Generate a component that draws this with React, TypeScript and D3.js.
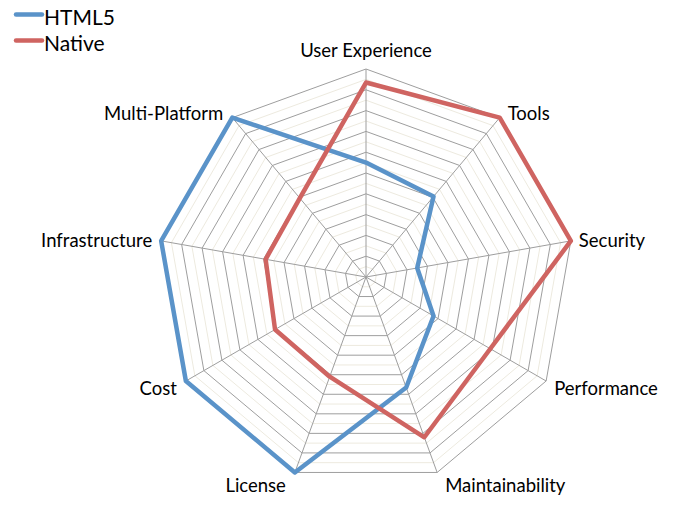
import * as d3 from "d3";
import React, { useEffect, useRef } from "react";

const axes = [
  "User Experience",
  "Tools",
  "Security",
  "Performance",
  "Maintainability",
  "License",
  "Cost",
  "Infrastructure",
  "Multi-Platform",
];
const html5 = [5.5, 5.05, 2.5, 3.75, 5.65, 10, 10, 10, 10];
const native = [9.35, 10, 10, 6.9, 8.2, 5.1, 5.05, 4.9, 4.95];
const seriesNames = ["HTML5", "Native"];
const seriesColors = ["#5A93C9", "#CF6461"];
const maxValue = 10;
const majorStep = 1;
const minorStep = 0.5;

export default function App() {
  const svgRef = useRef<SVGSVGElement>(null);

  useEffect(() => {
    if (!svgRef.current) return;
    const width = 675;
    const height = 514;
    const cx = 366;
    const cy = 277;
    const radius = 208;
    const font = "Lato, 'Liberation Sans', sans-serif";

    const svg = d3
      .select(svgRef.current)
      .attr("width", width)
      .attr("height", height)
      .attr("viewBox", [0, 0, width, height]);
    svg.selectAll("*").remove();

    const r = d3.scaleLinear([0, maxValue], [0, radius]);
    const angle = d3
      .scalePoint<number>()
      .domain(d3.range(axes.length + 1))
      .range([0, 2 * Math.PI]);

    const g = svg.append("g").attr("transform", `translate(${cx},${cy})`);

    const ring = (v: number) =>
      d3
        .lineRadial<number>()
        .angle((i) => angle(i) ?? 0)
        .radius(() => r(v))
        .curve(d3.curveLinearClosed)(d3.range(axes.length));

    // minor rings
    const minors = d3
      .range(minorStep, maxValue + 1e-9, minorStep)
      .filter((v) => Math.abs(v / majorStep - Math.round(v / majorStep)) > 1e-6);
    g.append("g")
      .selectAll("path")
      .data(minors)
      .join("path")
      .attr("d", (v) => ring(v))
      .attr("fill", "none")
      .attr("stroke", "#EDEADF")
      .attr("stroke-width", 1);

    // major rings
    g.append("g")
      .selectAll("path")
      .data(d3.range(majorStep, maxValue + 1e-9, majorStep))
      .join("path")
      .attr("d", (v) => ring(v))
      .attr("fill", "none")
      .attr("stroke", "#9E9E9E")
      .attr("stroke-width", 1);

    // spokes
    g.append("g")
      .selectAll("line")
      .data(d3.range(axes.length))
      .join("line")
      .attr("x1", 0)
      .attr("y1", 0)
      .attr("x2", (i) => r(maxValue) * Math.sin(angle(i) ?? 0))
      .attr("y2", (i) => -r(maxValue) * Math.cos(angle(i) ?? 0))
      .attr("stroke", "#9E9E9E")
      .attr("stroke-width", 1);

    // series
    const line = d3
      .lineRadial<number>()
      .angle((_, i) => angle(i) ?? 0)
      .radius((d) => r(d))
      .curve(d3.curveLinearClosed);

    [html5, native].forEach((vals, k) => {
      g.append("path")
        .attr("d", line(vals))
        .attr("fill", "none")
        .attr("stroke", seriesColors[k])
        .attr("stroke-width", 4.5)
        .attr("stroke-linejoin", "round");
    });

    // axis labels
    g.append("g")
      .selectAll("text")
      .data(axes)
      .join("text")
      .attr("font-family", font)
      .attr("font-size", 18.5)
      .attr("fill", "#000")
      .attr("dominant-baseline", "central")
      .attr("text-anchor", (_, i) => {
        const s = Math.sin(angle(i) ?? 0);
        return s > 0.1 ? "start" : s < -0.1 ? "end" : "middle";
      })
      .attr("x", (_, i) => {
        const s = Math.sin(angle(i) ?? 0);
        const off = Math.abs(s) < 0.1 ? 0 : s > 0 ? 8 : -9;
        return r(maxValue) * s + off;
      })
      .attr("y", (_, i) => {
        const c = Math.cos(angle(i) ?? 0);
        if (c > 0.99) return -r(maxValue) - 19;
        return -r(maxValue) * c - c * (c > 0 ? 6 : 13);
      })
      .text((d) => d);

    // legend
    const legend = svg.append("g");
    seriesNames.forEach((name, k) => {
      const y = 14.5 + k * 26;
      legend
        .append("line")
        .attr("x1", 16)
        .attr("x2", 42)
        .attr("y1", y)
        .attr("y2", y)
        .attr("stroke", seriesColors[k])
        .attr("stroke-width", 4.5)
        .attr("stroke-linecap", "round");
      legend
        .append("text")
        .attr("x", 44)
        .attr("y", y + 10)
        .attr("font-family", font)
        .attr("font-size", 21)
        .attr("fill", "#000")
        .text(name);
    });
  }, []);

  return (
    <svg
      ref={svgRef}
      style={{ position: "absolute", left: 0, top: 0, display: "block" }}
    />
  );
}
